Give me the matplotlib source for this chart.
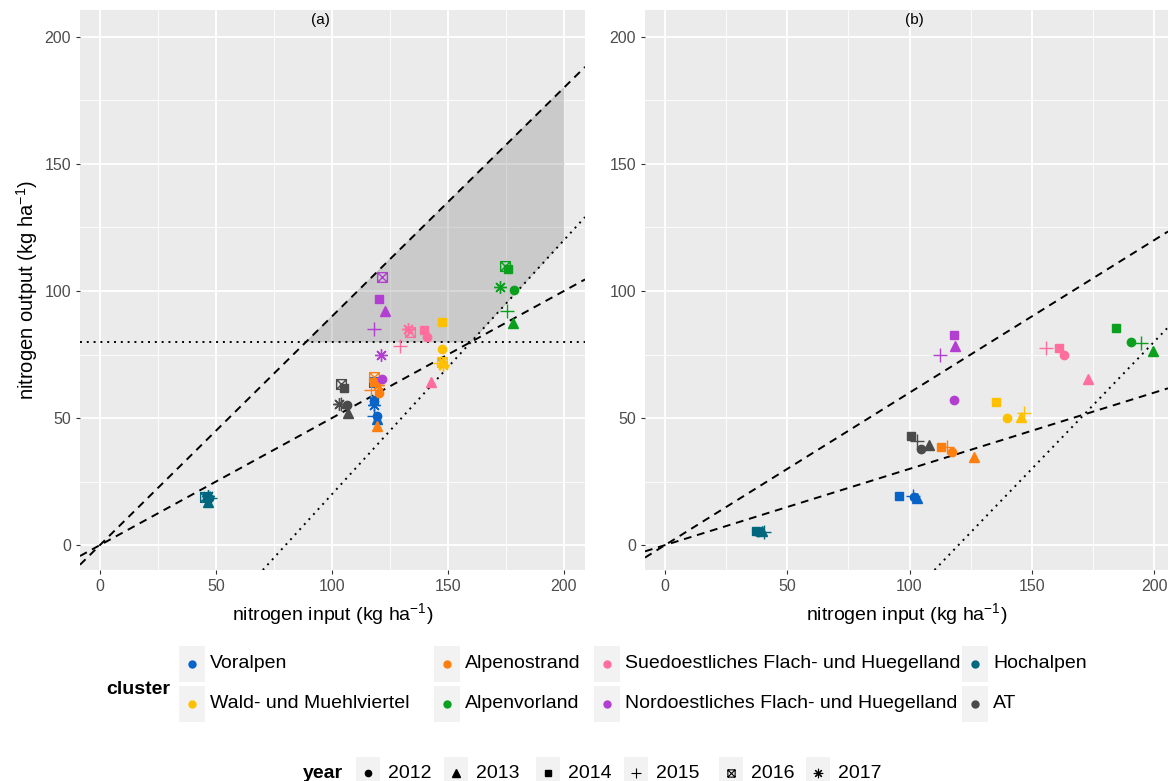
import matplotlib.pyplot as plt
from matplotlib.path import Path
from matplotlib.patches import Rectangle, Polygon
from matplotlib.lines import Line2D

plt.rcParams['font.family'] = ['Liberation Sans', 'DejaVu Sans']
plt.rcParams['mathtext.fontset'] = 'custom'
plt.rcParams['mathtext.rm'] = 'Liberation Sans'
plt.rcParams['mathtext.it'] = 'Liberation Sans'

clusters = ['Voralpen', 'Wald- und Muehlviertel', 'Alpenostrand', 'Alpenvorland',
            'Suedoestliches Flach- und Huegelland', 'Nordoestliches Flach- und Huegelland',
            'Hochalpen', 'AT']
colors = ['#0863C8', '#FFC000', '#FF7F0E', '#0AA01E', '#FF6E9C', '#B23FD2', '#00677F', '#4A4A4A']
years = [2012, 2013, 2014, 2015, 2016, 2017]

# panel (a): rows follow `clusters`, columns follow `years`
input_a = [
    [119.5, 119.5, 118.0, 118.0, 118.0, 118.0],
    [147.5, 148.0, 147.5, 146.5, 147.5, 148.0],
    [120.5, 119.5, 118.0, 117.0, 118.0, 120.0],
    [178.5, 178.0, 176.0, 175.5, 174.5, 172.5],
    [141.0, 142.5, 139.5, 129.5, 133.5, 133.0],
    [121.5, 123.0, 120.5, 118.0, 121.5, 121.0],
    [47.0, 46.5, 46.0, 47.5, 45.5, 46.5],
    [106.5, 107.0, 105.0, 104.0, 104.0, 103.0],
]
output_a = [
    [51.0, 49.5, 57.0, 51.0, 64.0, 55.0],
    [77.0, 72.0, 88.0, 71.5, 72.0, 71.0],
    [60.0, 47.0, 64.0, 61.0, 66.0, 63.0],
    [100.5, 87.5, 108.5, 92.0, 110.0, 101.5],
    [82.0, 64.0, 84.5, 78.5, 84.0, 85.0],
    [65.5, 92.0, 97.0, 85.0, 105.5, 75.0],
    [18.5, 17.0, 19.0, 18.5, 19.0, 19.5],
    [55.0, 52.0, 62.0, 55.5, 63.5, 55.5],
]

# panel (b): only 2012-2015
input_b = [
    [102.0, 103.0, 95.5, 101.5],
    [140.0, 145.5, 135.5, 147.0],
    [117.5, 126.5, 113.0, 115.5],
    [190.5, 199.5, 184.5, 194.5],
    [163.0, 173.0, 161.0, 156.0],
    [118.0, 118.5, 118.0, 112.5],
    [38.0, 39.5, 37.0, 40.5],
    [104.5, 108.0, 100.5, 103.0],
]
output_b = [
    [19.0, 18.5, 19.5, 19.5],
    [50.0, 50.5, 56.5, 52.0],
    [36.5, 34.5, 38.5, 38.5],
    [80.0, 76.5, 85.5, 79.5],
    [75.0, 65.5, 77.5, 77.5],
    [57.0, 78.5, 82.5, 75.0],
    [5.0, 5.5, 5.5, 5.0],
    [38.0, 39.5, 43.0, 41.0],
]

# reference lines: slopes of the dashed lines through the origin, offset of the dotted 1:1 line
dashed_a = [0.9, 0.5]
dotted_a = 80
hline_a = 80
dashed_b = [0.6, 0.3]
dotted_b = 120

# square with a cross inside (2016)
boxx = Path([(-1, -1), (1, -1), (1, 1), (-1, 1), (-1, -1), (-1, -1), (1, 1), (-1, 1), (1, -1)],
            [Path.MOVETO, Path.LINETO, Path.LINETO, Path.LINETO, Path.CLOSEPOLY,
             Path.MOVETO, Path.LINETO, Path.MOVETO, Path.LINETO])
year_markers = {2012: ('o', 6.0, True), 2013: ('^', 7.0, True), 2014: ('s', 6.0, True),
                2015: ('+', 10.0, False), 2016: (boxx, 7.0, False), 2017: ((8, 2, 0), 9.0, False)}

W, H = 1168, 781
fig = plt.figure(figsize=(W / 100, H / 100), dpi=100)


def px_axes(l, t, r, b):
    return fig.add_axes([l / W, 1 - b / H, (r - l) / W, (b - t) / H])


def style(ax, xlim):
    ax.set_facecolor('#EBEBEB')
    ax.set_xlim(*xlim)
    ax.set_ylim(-9.8, 210.6)
    ax.set_xticks([0, 50, 100, 150, 200])
    ax.set_yticks([0, 50, 100, 150, 200])
    ax.set_xticks([25, 75, 125, 175], minor=True)
    ax.set_yticks([25, 75, 125, 175], minor=True)
    ax.grid(which='major', color='white', lw=1.3)
    ax.grid(which='minor', color='white', lw=0.6)
    ax.tick_params(which='major', length=3, color='#333333', labelcolor='#4D4D4D', labelsize=11.5)
    ax.tick_params(which='minor', length=0)
    for s in ax.spines.values():
        s.set_visible(False)
    ax.set_axisbelow(True)
    ax.set_xlabel('nitrogen input (kg ha$^{-1}$)', fontsize=14, labelpad=5)


def draw_points(ax, xs, ys, yrs):
    for ci, col in enumerate(colors):
        for yi, yr in enumerate(yrs):
            m, ms, filled = year_markers[yr]
            if filled:
                ax.plot(xs[ci][yi], ys[ci][yi], marker=m, ms=ms, color=col, mec=col, ls='none', zorder=4)
            else:
                ax.plot(xs[ci][yi], ys[ci][yi], marker=m, ms=ms, color=col, mfc='none', mew=1.0,
                        ls='none', zorder=4)


# panel (a)
ax1 = px_axes(80, 10, 585, 570)
style(ax1, (-8.6, 209.1))
for k in dashed_a:
    ax1.axline((0, 0), slope=k, color='black', ls=(0, (4, 3)), lw=1.4, zorder=3)
ax1.axline((dotted_a, 0), slope=1, color='black', ls=(0, (1, 2.5)), lw=1.4, zorder=3)
ax1.axhline(hline_a, color='black', ls=(0, (1, 2.5)), lw=1.4, zorder=3)
region = [(hline_a / dashed_a[0], hline_a), (hline_a + dotted_a, hline_a),
          (200, 200 - dotted_a), (200, 200 * dashed_a[0])]
ax1.add_patch(Polygon(region, closed=True, facecolor='#808080', alpha=0.3,
                      edgecolor='#9A9A9A', lw=0.8, zorder=2))
draw_points(ax1, input_a, output_a, years)
ax1.text(95, 206.5, '(a)', ha='center', va='center', fontsize=11)
ax1.set_ylabel('nitrogen output (kg ha$^{-1}$)', fontsize=14.5, labelpad=3)

# panel (b)
ax2 = px_axes(645, 10, 1168, 570)
style(ax2, (-8.2, 205.7))
for k in dashed_b:
    ax2.axline((0, 0), slope=k, color='black', ls=(0, (4, 3)), lw=1.4, zorder=3)
ax2.axline((dotted_b, 0), slope=1, color='black', ls=(0, (1, 2.5)), lw=1.4, zorder=3)
draw_points(ax2, input_b, output_b, years[:4])
ax2.text(102, 206.5, '(b)', ha='center', va='center', fontsize=11)


def fx(px):
    return px / W


def fy(py):
    return 1 - py / H


def key_box(cx, cy, w, h):
    fig.add_artist(Rectangle((fx(cx - w / 2), fy(cy + h / 2)), w / W, h / H,
                             transform=fig.transFigure, facecolor='#F2F2F2', edgecolor='none'))


# cluster legend
fig.text(fx(170), fy(690), 'cluster', ha='right', va='center', fontsize=14, fontweight='bold')
col_x = [192, 447, 607, 975]
row_y = [664, 704]
for i, (name, col) in enumerate(zip(clusters, colors)):
    cx, cy = col_x[i // 2], row_y[i % 2]
    key_box(cx, cy, 26, 36)
    fig.add_artist(Line2D([fx(cx)], [fy(cy)], marker='o', ms=5, color=col, ls='none',
                          transform=fig.transFigure))
    fig.text(fx(cx + 18), fy(cy), name, ha='left', va='center', fontsize=14)

# year legend
fig.text(fx(343), fy(773), 'year', ha='right', va='center', fontsize=14, fontweight='bold')
year_x = [368, 456, 548, 636, 731, 818]
for cx, yr in zip(year_x, years):
    m, ms, filled = year_markers[yr]
    key_box(cx, 773, 24, 32)
    if filled:
        fig.add_artist(Line2D([fx(cx)], [fy(773)], marker=m, ms=ms * 0.75, color='black', ls='none',
                              transform=fig.transFigure))
    else:
        fig.add_artist(Line2D([fx(cx)], [fy(773)], marker=m, ms=ms * 0.75, color='black', mfc='none',
                              mew=0.8, ls='none', transform=fig.transFigure))
    fig.text(fx(cx + 20), fy(773), str(yr), ha='left', va='center', fontsize=14)

fig.savefig('out.png', dpi=100)
